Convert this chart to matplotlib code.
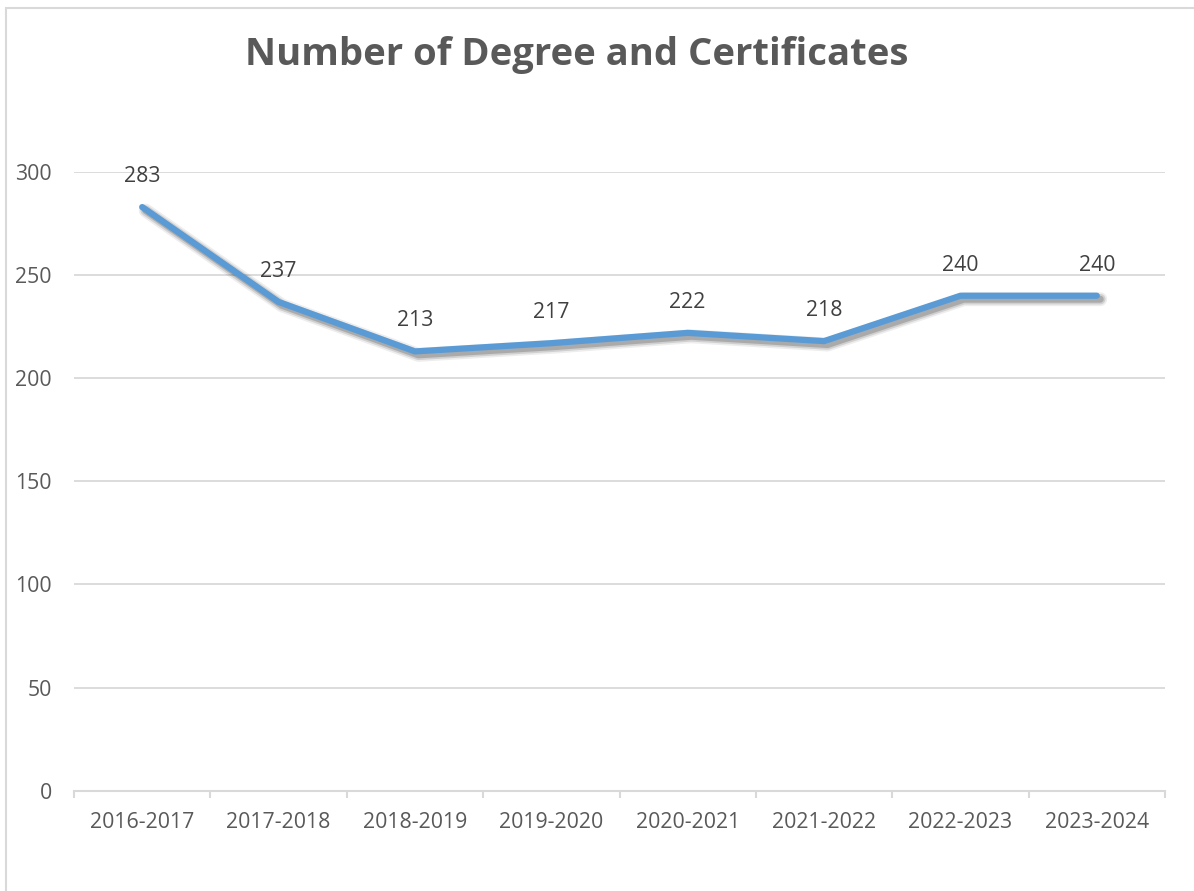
import matplotlib
matplotlib.use("Agg")
import matplotlib.pyplot as plt
import matplotlib.patheffects as pe
from matplotlib.patches import Rectangle

# Data
years = ["2016-2017", "2017-2018", "2018-2019", "2019-2020",
         "2020-2021", "2021-2022", "2022-2023", "2023-2024"]
counts = [283, 237, 213, 217, 222, 218, 240, 240]
y_ticks = [0, 50, 100, 150, 200, 250, 300]

W, H, DPI = 1194, 891, 100
plt.rcParams["font.family"] = ["Open Sans", "DejaVu Sans"]

fig = plt.figure(figsize=(W / DPI, H / DPI), dpi=DPI)
fig.patch.set_facecolor("white")

# Chart border (light gray frame)
fig.add_artist(Rectangle((6 / W, -0.1), 1.2, 1 - 8 / H + 0.1,
                         transform=fig.transFigure, fill=False,
                         edgecolor="#D9D9D9", linewidth=1.5))

left, right = 74 / W, 1165 / W
bottom, top = 1 - 790.7 / H, 1 - 172 / H
ax = fig.add_axes([left, bottom, right - left, top - bottom])

x = list(range(len(years)))
ax.set_xlim(-0.5, len(years) - 0.5)
ax.set_ylim(0, 300)

# Gridlines
ax.set_yticks(y_ticks)
ax.yaxis.grid(True, color="#D9D9D9", linewidth=1.3)
ax.set_axisbelow(True)
for s in ["top", "right", "left"]:
    ax.spines[s].set_visible(False)
ax.spines["bottom"].set_color("#D9D9D9")
ax.spines["bottom"].set_linewidth(1.5)

# Line with soft drop shadow
shadow = [pe.SimpleLineShadow(offset=(2.5, -2.5), shadow_color="#000000", alpha=0.07, linewidth=10),
          pe.SimpleLineShadow(offset=(2.5, -2.5), shadow_color="#000000", alpha=0.12, linewidth=7.5),
          pe.SimpleLineShadow(offset=(2.5, -2.5), shadow_color="#000000", alpha=0.18, linewidth=5),
          pe.Normal()]
ax.plot(x, counts, color="#5B9BD5", linewidth=4.5, solid_capstyle="round",
        solid_joinstyle="round", path_effects=shadow, clip_on=False, zorder=3)

# Data labels
for xi, v in zip(x, counts):
    ax.annotate(str(v), (xi, v), xytext=(0, 22), textcoords="offset points",
                ha="center", va="center", fontsize=15.3, color="#404040",
                annotation_clip=False)

# X axis: labels at category centres, tick marks on boundaries
ax.set_xticks(x)
ax.set_xticklabels(years)
ax.tick_params(axis="x", which="major", length=0, pad=15.5, labelsize=15.3,
               labelcolor="#595959")
ax.set_xticks([i - 0.5 for i in range(len(years) + 1)], minor=True)
ax.tick_params(axis="x", which="minor", length=5, width=1.5, color="#D9D9D9")

ax.tick_params(axis="y", length=0, pad=16, labelsize=15.3, labelcolor="#595959")

fig.text(577 / W, 1 - 55 / H, "Number of Degree and Certificates",
         ha="center", va="center", fontsize=27.5, fontweight="bold",
         color="#595959")

fig.savefig("out.png", dpi=DPI, facecolor="white")
